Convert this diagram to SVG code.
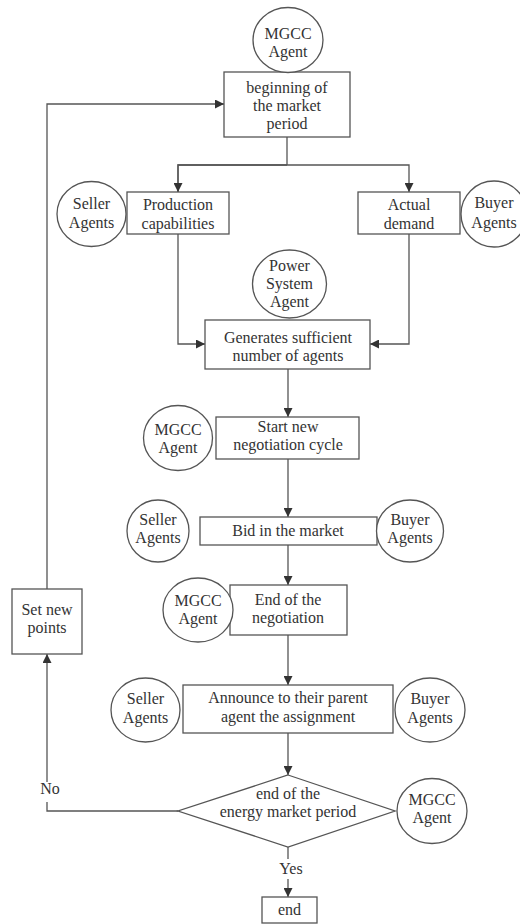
<svg xmlns="http://www.w3.org/2000/svg" width="520" height="924" viewBox="0 0 520 924">
  <style>
    .box { fill: #ffffff; stroke: #555555; stroke-width: 1.3; }
    .agent { fill: #ffffff; stroke: #555555; stroke-width: 1.3; }
    .wire { fill: none; stroke: #555555; stroke-width: 1.3; }
    text { font-family: "Liberation Serif", "Times New Roman", serif; font-size: 16px; fill: #333333; text-anchor: middle; }
  </style>
  <defs>
    <marker id="arrow" viewBox="0 0 10 10" refX="10" refY="5" markerWidth="9" markerHeight="9" markerUnits="userSpaceOnUse" orient="auto">
      <path d="M0,0 L10,5 L0,10 Z" fill="#333333"/>
    </marker>
  </defs>
  <rect width="520" height="924" fill="#ffffff"/>

  <!-- connectors -->
  <g id="connectors">
    <polyline class="wire" points="287,137 287,165"/>
    <polyline class="wire" points="178,192 178,165 409,165 409,192" marker-end="url(#arrow)"/>
    <polyline class="wire" points="287,165 178,165 178,192" marker-end="url(#arrow)"/>
    <polyline class="wire" points="178,234 178,344 205,344" marker-end="url(#arrow)"/>
    <polyline class="wire" points="409,234 409,344 370,344" marker-end="url(#arrow)"/>
    <line class="wire" x1="288" y1="369" x2="288" y2="417" marker-end="url(#arrow)"/>
    <line class="wire" x1="288" y1="459" x2="288" y2="517" marker-end="url(#arrow)"/>
    <line class="wire" x1="288" y1="545" x2="288" y2="585" marker-end="url(#arrow)"/>
    <line class="wire" x1="288" y1="635" x2="288" y2="685" marker-end="url(#arrow)"/>
    <line class="wire" x1="288" y1="733" x2="288" y2="775" marker-end="url(#arrow)"/>
    <line class="wire" x1="288" y1="847" x2="288" y2="859"/>
    <line class="wire" x1="288" y1="879" x2="288" y2="897" marker-end="url(#arrow)"/>
    <polyline class="wire" points="178,811 47,811 47,802"/>
    <line class="wire" x1="47" y1="782" x2="47" y2="654" marker-end="url(#arrow)"/>
    <polyline class="wire" points="47,589 47,104 224,104" marker-end="url(#arrow)"/>
    <text x="50" y="794">No</text>
    <text x="291" y="874">Yes</text>
  </g>

  <!-- process steps -->
  <g id="begin-period">
    <rect class="box" x="224" y="72" width="126" height="65"/>
    <text x="287" y="93">beginning of</text>
    <text x="287" y="111">the market</text>
    <text x="287" y="129">period</text>
  </g>
  <g id="production">
    <rect class="box" x="127" y="192" width="102" height="42"/>
    <text x="178" y="210">Production</text>
    <text x="178" y="229">capabilities</text>
  </g>
  <g id="demand">
    <rect class="box" x="358" y="192" width="102" height="42"/>
    <text x="409" y="210">Actual</text>
    <text x="409" y="229">demand</text>
  </g>
  <g id="generate">
    <rect class="box" x="205" y="320" width="165" height="49"/>
    <text x="288" y="343">Generates sufficient</text>
    <text x="288" y="361">number of agents</text>
  </g>
  <g id="start-cycle">
    <rect class="box" x="216" y="417" width="143" height="42"/>
    <text x="288" y="432">Start new</text>
    <text x="288" y="450">negotiation cycle</text>
  </g>
  <g id="bid">
    <rect class="box" x="200" y="517" width="177" height="28"/>
    <text x="288" y="536">Bid in the market</text>
  </g>
  <g id="end-negotiation">
    <rect class="box" x="230" y="585" width="117" height="50"/>
    <text x="288" y="605">End of the</text>
    <text x="288" y="623">negotiation</text>
  </g>
  <g id="set-points">
    <rect class="box" x="12" y="589" width="70" height="65"/>
    <text x="47" y="615">Set new</text>
    <text x="47" y="633">points</text>
  </g>
  <g id="announce">
    <rect class="box" x="183" y="685" width="210" height="48"/>
    <text x="288" y="703">Announce to their parent</text>
    <text x="288" y="722">agent the assignment</text>
  </g>
  <g id="decision">
    <polygon class="box" points="288,775 395,811 288,847 178,811"/>
    <text x="288" y="799">end of the</text>
    <text x="288" y="817">energy market period</text>
  </g>
  <g id="end">
    <rect class="box" x="262" y="897" width="55" height="26"/>
    <text x="289.5" y="915">end</text>
  </g>

  <!-- agents -->
  <g id="mgcc-top">
    <ellipse class="agent" cx="288" cy="40" rx="35" ry="32.5"/>
    <text x="288" y="39">MGCC</text>
    <text x="288" y="57">Agent</text>
  </g>
  <g id="seller-1">
    <ellipse class="agent" cx="91.5" cy="214" rx="34.5" ry="32.5"/>
    <text x="91.5" y="209">Seller</text>
    <text x="91.5" y="228">Agents</text>
  </g>
  <g id="buyer-1">
    <ellipse class="agent" cx="494" cy="214" rx="33" ry="33"/>
    <text x="494" y="208">Buyer</text>
    <text x="494" y="228">Agents</text>
  </g>
  <g id="power-system">
    <ellipse class="agent" cx="289.5" cy="284" rx="37" ry="34"/>
    <text x="289.5" y="271">Power</text>
    <text x="289.5" y="289">System</text>
    <text x="289.5" y="307">Agent</text>
  </g>
  <g id="mgcc-start">
    <ellipse class="agent" cx="178" cy="438" rx="34.5" ry="32.5"/>
    <text x="178" y="435">MGCC</text>
    <text x="178" y="453">Agent</text>
  </g>
  <g id="seller-bid">
    <ellipse class="agent" cx="158" cy="531" rx="31" ry="31"/>
    <text x="158" y="525">Seller</text>
    <text x="158" y="543">Agents</text>
  </g>
  <g id="buyer-bid">
    <ellipse class="agent" cx="410" cy="531" rx="33.5" ry="31"/>
    <text x="410" y="525">Buyer</text>
    <text x="410" y="543">Agents</text>
  </g>
  <g id="mgcc-end">
    <ellipse class="agent" cx="198" cy="610" rx="35" ry="32"/>
    <text x="198" y="606">MGCC</text>
    <text x="198" y="624">Agent</text>
  </g>
  <g id="seller-announce">
    <ellipse class="agent" cx="145.5" cy="710" rx="34.5" ry="32"/>
    <text x="145.5" y="704">Seller</text>
    <text x="145.5" y="723">Agents</text>
  </g>
  <g id="buyer-announce">
    <ellipse class="agent" cx="430" cy="710" rx="35" ry="32"/>
    <text x="430" y="704">Buyer</text>
    <text x="430" y="723">Agents</text>
  </g>
  <g id="mgcc-decision">
    <ellipse class="agent" cx="432" cy="811" rx="35" ry="32.5"/>
    <text x="432" y="805">MGCC</text>
    <text x="432" y="823">Agent</text>
  </g>
</svg>
